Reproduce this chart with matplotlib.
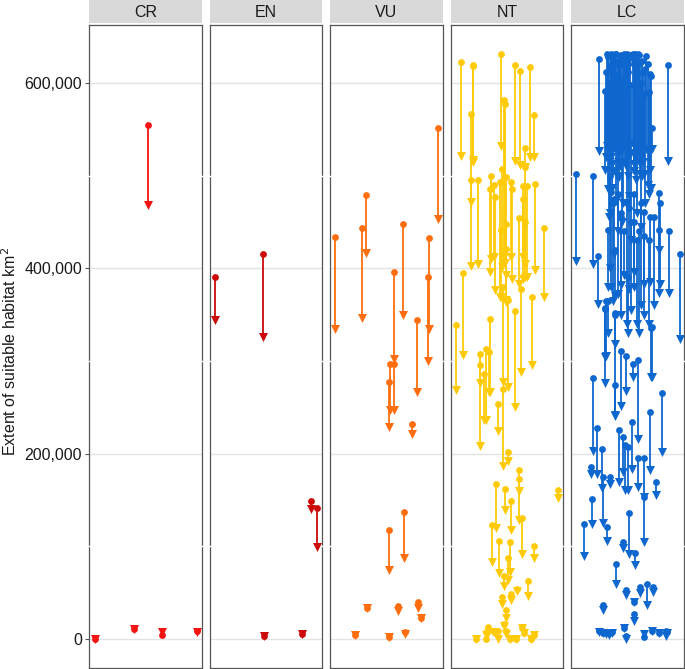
import matplotlib
matplotlib.use("Agg")
import matplotlib.pyplot as plt
from matplotlib.patches import Rectangle

plt.rcParams['font.family'] = ['Liberation Sans', 'DejaVu Sans']

# ---- data ----
categories = ['CR', 'EN', 'VU', 'NT', 'LC']
colors = ['#F51414', '#CC0A0A', '#FF6E0E', '#FFCB08', '#0E67CF']

y_ticks = [0, 200000, 400000, 600000]
y_labels = ['0', '200,000', '400,000', '600,000']

cr_x = [0.05, 0.40, 0.52, 0.65, 0.96]
cr_start = [0, 11000, 554700, 4300, 8200]
cr_end = [0, 10500, 468000, 7900, 8000]

en_x = [0.044, 0.478, 0.48, 0.824, 0.90, 0.956]
en_start = [390500, 415000, 3500, 5000, 148600, 141400]
en_end = [344600, 325900, 3500, 5000, 140700, 99700]

vu_x = [0.045, 0.28, 0.316, 0.566, 0.65, 0.77, 0.875, 0.87, 0.96, 0.53, 0.571,
        0.52, 0.727, 0.527, 0.655, 0.33, 0.604, 0.78, 0.805, 0.218, 0.525, 0.668]
vu_start = [433600, 443000, 478500, 395600, 447300, 344600, 432200, 390500, 551000, 297200, 297200,
            277400, 231900, 117400, 136800, 34000, 35900, 39400, 22200, 4300, 2500, 7500]
vu_end = [335000, 346400, 416800, 302600, 349400, 266000, 335000, 300000, 452700, 247000, 247000,
          229000, 221100, 74600, 87900, 34000, 30500, 34000, 22200, 4300, 2500, 5400]

nt_x = [0.095, 0.197, 0.202, 0.449, 0.573, 0.613, 0.705, 0.478, 0.487, 0.177,
        0.743, 0.661, 0.664, 0.183, 0.245, 0.36, 0.354, 0.389, 0.398, 0.454,
        0.442, 0.493, 0.537, 0.546, 0.643, 0.675, 0.643, 0.752, 0.829, 0.611,
        0.664, 0.489, 0.449, 0.493, 0.106, 0.044, 0.354, 0.573, 0.726, 0.463,
        0.507, 0.626,
        0.257, 0.257, 0.312, 0.345, 0.295, 0.419, 0.463, 0.513, 0.608, 0.611,
        0.956, 0.404, 0.487, 0.54, 0.631, 0.365, 0.434, 0.528, 0.513, 0.741,
        0.475, 0.69, 0.593, 0.537, 0.458, 0.496, 0.478, 0.33, 0.224, 0.312,
        0.383, 0.419, 0.493, 0.525, 0.581, 0.637, 0.649, 0.719, 0.737]
nt_start = [623000, 619600, 618000, 631100, 619600, 613100, 617400, 581600, 577300, 566500,
            565400, 529500, 509000, 495700, 494700, 500000, 485700, 489300, 476700, 507300,
            492800, 498200, 492800, 485700, 488600, 488600, 475000, 491000, 443300, 454100,
            449800, 448000, 441600, 421100, 394800, 338500, 345000, 353600, 369000, 379800,
            365400, 378000,
            308000, 295700, 312600, 309400, 286100, 253800, 269600, 201400, 182300, 172600,
            160800, 167300, 161900, 148600, 131000, 122800, 105500, 105100, 87900, 100500,
            68200, 62800, 53800, 48800, 45200, 30800, 16500, 12500, 0, 0,
            7800, 8200, 8200, 0, 0, 11800, 6500, 0, 4600]
nt_end = [521600, 517000, 515000, 532400, 516200, 511600, 519800, 412000, 405300, 471300,
          519800, 509000, 405000, 402400, 405000, 410400, 395900, 412200, 376200, 401300,
          369000, 363600, 412100, 388800, 388800, 390500, 412000, 397700, 369000, 383500,
          390500, 393000, 369000, 365400, 306200, 268500, 266700, 250500, 295400, 277400,
          272000, 288200,
          208200, 275700, 236200, 266700, 236200, 224400, 186600, 192000, 159700, 128500,
          152500, 119500, 139300, 117700, 91500, 82900, 71700, 72800, 63900, 87900,
          57400, 46600, 51300, 41600, 38000, 22600, 13600, 6500, 0, 4600,
          7800, 0, 5700, 0, 0, 11800, 6500, 0, 4600]

lc_x = [0.045, 0.196, 0.244, 0.241, 0.863, 0.964,
        0.318, 0.330, 0.354, 0.366, 0.384, 0.399, 0.414, 0.443, 0.467, 0.488,
        0.503, 0.548, 0.563, 0.598, 0.613, 0.640, 0.667, 0.699, 0.711, 0.720,
        0.652, 0.310, 0.301, 0.366, 0.429, 0.458, 0.518, 0.577, 0.335, 0.405, 0.680,
        0.325, 0.342, 0.372, 0.392, 0.420, 0.436, 0.452, 0.475, 0.495, 0.510,
        0.525, 0.533, 0.555, 0.570, 0.585, 0.605, 0.622, 0.630, 0.658, 0.690,
        0.354, 0.384, 0.443, 0.518, 0.652, 0.705, 0.777, 0.786, 0.780, 0.869,
        0.345, 0.370, 0.415, 0.440, 0.500, 0.530, 0.560, 0.600, 0.625, 0.690, 0.740,
        0.330, 0.586, 0.646, 0.473, 0.563, 0.393, 0.503, 0.717, 0.310, 0.301,
        0.393, 0.443, 0.488, 0.390, 0.548, 0.598, 0.810, 0.194, 0.226, 0.277,
        0.176, 0.348, 0.429, 0.458, 0.479, 0.503, 0.539, 0.592, 0.652, 0.699,
        0.756, 0.185, 0.116, 0.286, 0.321, 0.518, 0.652, 0.461, 0.571, 0.396,
        0.491, 0.613, 0.673, 0.732, 0.560, 0.283, 0.563, 0.250, 0.280, 0.310,
        0.340, 0.365, 0.473, 0.488, 0.646, 0.717, 0.777, 0.845, 0.855,
        0.387, 0.714, 0.298, 0.327]
lc_start = [501900, 499000, 625700, 412800, 619600, 415700,
            631000, 629000, 631000, 622000, 630000, 631000, 624000, 630000, 631000, 627000,
            620000, 631000, 625000, 631000, 621000, 612000, 629000, 610000, 607000, 551000,
            588000, 612000, 591000, 615000, 618000, 622000, 628000, 616000, 600000, 605000, 620000,
            628000, 618000, 626000, 631000, 610000, 629000, 603000, 625000, 631000, 612000,
            630000, 598000, 620000, 631000, 608000, 630000, 600000, 624000, 615000, 590000,
            482000, 475000, 460000, 465000, 460500, 455000, 480700, 470000, 441600, 439700,
            500000, 470000, 480000, 455000, 470000, 450000, 480000, 440000, 470000, 430000, 455000,
            441600, 430000, 435000, 440000, 450000, 420000, 390500, 336700, 365000, 356800,
            350000, 310800, 305000, 273900, 297200, 300800, 265000, 281700, 227200, 205000,
            185900, 175100, 225400, 217600, 209300, 207400, 234400, 194900, 194900, 245100,
            169100, 150800, 124200, 175100, 121300, 135700, 153600, 105100, 92600, 80800,
            53100, 55600, 59200, 55600, 39800, 36900, 27200, 8200, 7000, 7500,
            6000, 8000, 11800, 3000, 2000, 8200, 7000, 8200, 8000,
            351800, 335600, 356500, 364700]
lc_end = [407400, 405000, 526200, 361100, 516200, 324200,
          532000, 486000, 520000, 512000, 530000, 473000, 515000, 525000, 533000, 510000,
          520000, 534000, 512000, 528000, 502000, 515000, 529000, 506000, 487000, 529000,
          502000, 520000, 506000, 487000, 498000, 470000, 478000, 495000, 455000, 500000, 490000,
          520000, 460000, 505000, 530000, 440000, 510000, 450000, 515000, 470000, 500000,
          524000, 430000, 505000, 520000, 460000, 515000, 445000, 500000, 470000, 480000,
          380000, 415000, 382000, 378000, 383000, 385000, 420000, 383400, 373000, 373300,
          400000, 365000, 372000, 350000, 340000, 355000, 380000, 330000, 360000, 340000, 360000,
          380000, 340000, 350000, 393000, 396000, 370000, 330000, 282200, 305000, 275700,
          318800, 251300, 267800, 240500, 282800, 215400, 201400, 203100, 178000, 162600,
          178000, 167200, 169700, 180500, 160800, 160800, 183100, 164400, 153600, 182300,
          155400, 124200, 90000, 125600, 106200, 91900, 105100, 98700, 80000, 59200,
          47000, 49500, 36200, 51000, 39800, 31600, 19700, 7500, 6000, 5000,
          4600, 6500, 11800, 0, 5500, 8200, 7000, 3500, 6000,
          241500, 282800, 304400, 330000]

panel_x = [cr_x, en_x, vu_x, nt_x, lc_x]
panel_start = [cr_start, en_start, vu_start, nt_start, lc_start]
panel_end = [cr_end, en_end, vu_end, nt_end, lc_end]

# ---- figure ----
fig, axes = plt.subplots(1, 5, figsize=(6.85, 6.69), dpi=100, sharey=True)
fig.subplots_adjust(left=0.130, right=0.998, top=0.963, bottom=0.002, wspace=0.071)

for i, ax in enumerate(axes):
    col = colors[i]
    xs, st, en = panel_x[i], panel_start[i], panel_end[i]
    ax.vlines(xs, en, st, color=col, linewidth=1.3, zorder=3)
    ax.scatter(xs, st, marker='o', s=24, color=col, linewidths=0, zorder=4)
    ax.scatter(xs, en, marker='v', s=42, color=col, linewidths=0, zorder=4)

    ax.set_xlim(0, 1)
    ax.set_ylim(-30900, 662700)
    ax.set_xticks([])
    ax.set_yticks(y_ticks)
    for yv in y_ticks:
        ax.axhline(yv, color='#E3E3E3', linewidth=1.0, zorder=1)
    # small white breaks in the border at the minor grid positions
    for yv in [100000, 300000, 500000]:
        for x0, x1 in [(-0.015, 0.012), (0.988, 1.015)]:
            ax.plot([x0, x1], [yv, yv], color='white', linewidth=1.0,
                    transform=ax.get_yaxis_transform(), clip_on=False, zorder=6)
    for sp in ax.spines.values():
        sp.set_color('#555555')
        sp.set_linewidth(0.9)
        sp.set_zorder(5)

    # facet strip
    ax.add_patch(Rectangle((0, 1.002), 1, 0.04, transform=ax.transAxes,
                           facecolor='#D9D9D9', edgecolor='none', clip_on=False))
    ax.text(0.5, 1.019, categories[i], transform=ax.transAxes, ha='center',
            va='center', fontsize=11.5, color='#1A1A1A')

    if i == 0:
        ax.set_yticklabels(y_labels, fontsize=11.5, color='#1A1A1A')
        ax.tick_params(axis='y', length=3, width=0.8, color='#555555', pad=2)
    else:
        ax.tick_params(axis='y', length=0, labelleft=False)

fig.text(0.0135, 0.475, 'Extent of suitable habitat km$^2$', rotation=90,
         ha='center', va='center', fontsize=11.5, color='#1A1A1A')

fig.savefig('out.png', dpi=100)
